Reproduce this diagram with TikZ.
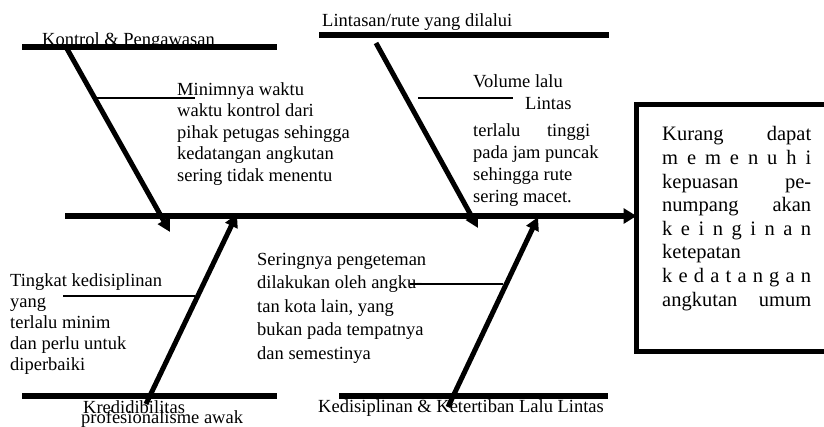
\documentclass[tikz,border=0pt]{standalone}
\usepackage{fontspec}
\setmainfont{Liberation Serif}
\usetikzlibrary{positioning,arrows.meta}
\tikzstyle{bar}=[line width=5.5pt]
\tikzstyle{bone}=[line width=5pt, -{Triangle[length=13pt,width=13pt]}]
\tikzstyle{spine}=[line width=5.5pt, -{Triangle[length=13pt,width=15pt]}]
\tikzstyle{twig}=[line width=1.4pt]
\tikzstyle{kat}=[inner sep=0pt, anchor=base west, font=\fontsize{18.5}{21.5}\selectfont]
%multi-line text: the base is the baseline of the last line
\tikzstyle{sebab}=[inner sep=0pt, anchor=base west, align=left, font=\fontsize{18.5}{21.4}\selectfont]
\tikzstyle{akibatbox}=[rectangle, minimum width=221pt, minimum height=242pt, inner sep=0pt, outer sep=2.5pt]
\tikzstyle{frame}=[line width=5pt, line join=miter]
\newcommand\spread[2]{\makebox[#1][s]{#2}}

\begin{document}
\begin{tikzpicture}[x=1pt, y=-1pt]
\useasboundingbox (0,0) rectangle (824,426);

%labels of the four categories
\node (kontrol) [kat] at (42,45) {Kontrol \& Pengawasan};
\node (lintasan) [kat] at (322,26) {Lintasan/rute yang dilalui};
\node (kredibel) [kat] at (83,413) {Kredidibilitas};
\node (profesi) [kat] at (81,423) {profesionalisme awak};
\node (disiplin) [kat] at (318,412) {Kedisiplinan \& Ketertiban Lalu Lintas};

%causes
\node (sebabkontrol) [sebab] at (177,181) {Minimnya waktu\\waktu kontrol dari\\pihak petugas sehingga\\kedatangan angkutan\\sering tidak menentu};
\node (sebabvolume) [sebab, font=\fontsize{18.5}{22}\selectfont] at (473,202) {Volume lalu\\\hspace*{52pt}Lintas\\[5pt]\spread{117pt}{terlalu tinggi}\\pada jam puncak\\sehingga rute\\sering macet.};
\node (sebabawak) [sebab, font=\fontsize{18.5}{21}\selectfont] at (10,370) {Tingkat kedisiplinan\\yang\\terlalu minim\\dan perlu untuk\\diperbaiki};
\node (sebabngetem) [sebab, font=\fontsize{18.5}{23.5}\selectfont] at (257,359) {Seringnya pengeteman\\dilakukan oleh angku-\\tan kota lain, yang\\bukan pada tempatnya\\dan semestinya};

%effect (its right side runs off the page)
\node (akibat) [akibatbox] at (749.5,228) {};
\draw[frame] (akibat.north east) -- (akibat.north west) -- (akibat.south west) -- (akibat.south east);
\node (akibattext) [sebab, font=\fontsize{20.5}{23.6}\selectfont] at (662,306) {\spread{149pt}{Kurang dapat}\\\spread{149pt}{m e m e n u h i}\\\spread{149pt}{kepuasan pe-}\\\spread{149pt}{numpang akan}\\\spread{149pt}{k e i n g i n a n}\\ketepatan\\\spread{149pt}{k e d a t a n g a n}\\\spread{149pt}{angkutan umum}};

%bars
\coordinate (tlA) at (22,47);  \coordinate (tlB) at (277,47);
\coordinate (trA) at (319,35); \coordinate (trB) at (609,35);
\coordinate (blA) at (22,396); \coordinate (blB) at (277,396);
\coordinate (brA) at (339,396); \coordinate (brB) at (608,396);
\draw[bar] (tlA) -- (tlB);
\draw[bar] (trA) -- (trB);
\draw[bar] (blA) -- (blB);
\draw[bar] (brA) -- (brB);

%spine
\coordinate (tail) at (65,216);
\draw[spine] (tail) -- (tail -| akibat.west);

%bones
\coordinate (tltop) at (66,47);   \coordinate (tltip) at (170,232);
\coordinate (trtop) at (376,43);  \coordinate (trtip) at (478,228);
\coordinate (blbot) at (146,404); \coordinate (bltip) at (237,214);
\coordinate (brbot) at (448,407); \coordinate (brtip) at (538,217);
\draw[bone] (tltop) -- (tltip);
\draw[bone] (trtop) -- (trtip);
\draw[bone] (blbot) -- (bltip);
\draw[bone] (brbot) -- (brtip);

%twigs
\coordinate (t1a) at (97,98);  \coordinate (t1b) at (195,98);
\coordinate (t2a) at (418,98); \coordinate (t2b) at (513,98);
\coordinate (t3a) at (63,296); \coordinate (t3b) at (195,296);
\coordinate (t4a) at (410,284); \coordinate (t4b) at (503,284);
\draw[twig] (t1a) -- (t1b);
\draw[twig] (t2a) -- (t2b);
\draw[twig] (t3a) -- (t3b);
\draw[twig] (t4a) -- (t4b);

\end{tikzpicture}
\end{document}
